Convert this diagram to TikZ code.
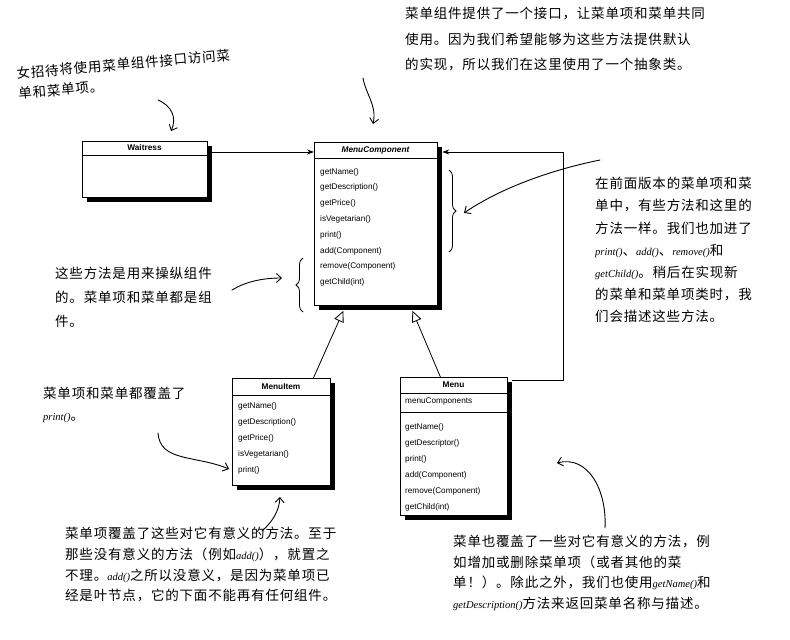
\documentclass[tikz,border=0pt]{standalone}
\usepackage{fontspec}
\setmainfont{Liberation Sans}
\newfontfamily\cjk[LetterSpace=6]{Noto Sans CJK SC}
\newfontfamily\handcode{Liberation Serif}
\usetikzlibrary{arrows.meta,decorations.pathreplacing}
\newcommand{\cd}[1]{{\handcode\itshape\fontsize{10.5}{10}\selectfont #1}}
\begin{document}
\begin{tikzpicture}[x=1pt,y=-1pt,
 umlbox/.style={draw, line width=0.8pt, fill=white, inner sep=0pt, anchor=north west},
 shadowfill/.style={fill=black},
 umltitle/.style={font=\bfseries\fontsize{8.3}{9}\selectfont, inner sep=0pt},
 meth/.style={font=\fontsize{8.2}{16}\selectfont, align=left, inner sep=0pt, anchor=north west},
 annot/.style={font=\cjk\fontsize{13.5}{22}\selectfont, align=left, inner sep=0pt, anchor=north west},
 hand/.style={line width=0.9pt, -{Straight Barb[length=5pt,width=9pt]}, line cap=round},
 conn/.style={line width=0.8pt},
 brc/.style={line width=0.8pt, decorate, decoration={brace, amplitude=7pt}},
]
\useasboundingbox (0,0) rectangle (790,640);
\fill[white] (0,0) rectangle (790,640);

% ---------- shadows ----------
\fill[shadowfill] (86.5,145.5) rectangle (211.5,201.5);
\fill[shadowfill] (318.5,146.5) rectangle (441.5,309.5);
\fill[shadowfill] (236.5,382.5) rectangle (334.5,489.5);
\fill[shadowfill] (404.5,381.5) rectangle (511.5,519.5);

% ---------- Waitress ----------
\node[umlbox, minimum width=125pt, minimum height=56pt] (w) at (82,141) {};
\node[umltitle] (wt) at (144.5,148) {Waitress};
\draw[line width=0.6pt] ([yshift=-14pt]w.north west) -- ([yshift=-14pt]w.north east);

% ---------- MenuComponent ----------
\node[umlbox, minimum width=123pt, minimum height=163pt] (mc) at (314,142) {};
\node[umltitle, font=\bfseries\itshape\fontsize{8.3}{9}\selectfont] (mct) at (375.5,150) {MenuComponent};
\draw[line width=0.6pt] ([yshift=-16pt]mc.north west) -- ([yshift=-16pt]mc.north east);
\node[meth, font=\fontsize{8.2}{15.8}\selectfont] (mcm) at (320,168) {getName()\\getDescription()\\getPrice()\\isVegetarian()\\print()\\add(Component)\\remove(Component)\\getChild(int)};

% ---------- MenuItem ----------
\node[umlbox, minimum width=98pt, minimum height=107pt] (mi) at (232,378) {};
\node[umltitle] (mit) at (281,386.5) {MenuItem};
\draw[line width=0.6pt] ([yshift=-17pt]mi.north west) -- ([yshift=-17pt]mi.north east);
\node[meth] (mim) at (238,402) {getName()\\getDescription()\\getPrice()\\isVegetarian()\\print()};

% ---------- Menu ----------
\node[umlbox, minimum width=107pt, minimum height=138pt] (me) at (400,377) {};
\node[umltitle] (met) at (453.5,385) {Menu};
\draw[line width=0.6pt] ([yshift=-16pt]me.north west) -- ([yshift=-16pt]me.north east);
\draw[line width=0.6pt] ([yshift=-35pt]me.north west) -- ([yshift=-35pt]me.north east);
\node[meth] (mea) at (405,398) {menuComponents};
\node[meth] (mem) at (405,423) {getName()\\getDescriptor()\\print()\\add(Component)\\remove(Component)\\getChild(int)};

% ---------- connectors ----------
\draw[conn, -{Stealth[length=7pt,width=5pt]}] ([xshift=4.5pt,yshift=-11pt]w.north east) -- ([yshift=-10pt]mc.north west);
\draw[conn, -{Triangle[fill=white,length=11pt,width=10pt]}] ([xshift=32pt]mi.north) -- ([xshift=-32.5pt,yshift=-5pt]mc.south);
\draw[conn, -{Triangle[fill=white,length=11pt,width=10pt]}] ([xshift=-13.5pt]me.north) -- ([xshift=36.5pt,yshift=-5pt]mc.south);
\coordinate (agg) at (563,152);
\draw[conn, -{Stealth[length=7pt,width=5pt]}] ([xshift=4.5pt,yshift=-3pt]me.north east) -| (agg) -- ([xshift=4.5pt,yshift=-10pt]mc.north east);

% ---------- braces ----------
\draw[brc] (449,170) -- (449,252);
\draw[brc] (303,312) -- (303,258);

% ---------- annotations ----------
\node[annot, rotate=5, font=\cjk\fontsize{13.5}{20}\selectfont] (n1) at (16,67) {女招待将使用菜单组件接口访问菜\\单和菜单项。};
\node[annot, font=\cjk\fontsize{13.5}{25.5}\selectfont] (n2) at (405,7) {菜单组件提供了一个接口，让菜单项和菜单共同\\使用。因为我们希望能够为这些方法提供默认\\的实现，所以我们在这里使用了一个抽象类。};
\node[annot, font=\cjk\fontsize{13.5}{22.2}\selectfont] (n3) at (595,177) {在前面版本的菜单项和菜\\单中，有些方法和这里的\\方法一样。我们也加进了\\\cd{print()}、\cd{add()}、\cd{remove()}和\\\cd{getChild()}。稍后在实现新\\的菜单和菜单项类时，我\\们会描述这些方法。};
\node[annot, font=\cjk\fontsize{13.5}{24}\selectfont] (n4) at (55,267) {这些方法是用来操纵组件\\的。菜单项和菜单都是组\\件。};
\node[annot, font=\cjk\fontsize{13.5}{22}\selectfont] (n5) at (43,387) {菜单项和菜单都覆盖了\\\cd{print()}。};
\node[annot, font=\cjk\fontsize{13.5}{20.7}\selectfont] (n6) at (65,527) {菜单项覆盖了这些对它有意义的方法。至于\\那些没有意义的方法（例如\cd{add()}），就置之\\不理。\cd{add()}之所以没意义，是因为菜单项已\\经是叶节点，它的下面不能再有任何组件。};
\node[annot, font=\cjk\fontsize{13.5}{20.5}\selectfont] (n7) at (453,535) {菜单也覆盖了一些对它有意义的方法，例\\如增加或删除菜单项（或者其他的菜\\单！）。除此之外，我们也使用\cd{getName()}和\\\cd{getDescription()}方法来返回菜单名称与描述。};

% ---------- hand-drawn arrows ----------
\coordinate (a1s) at (158,100); \coordinate (a1e) at (171,131);
\draw[hand] (a1s) .. controls (172,106) and (177,118) .. (a1e);
\coordinate (a2s) at (363,78); \coordinate (a2e) at (373,124);
\draw[hand] (a2s) .. controls (366,95) and (377,105) .. (a2e);
\coordinate (a3s) at (600,160); \coordinate (a3e) at (464,213);
\draw[hand] (a3s) .. controls (560,168) and (505,185) .. (a3e);
\coordinate (a4s) at (232,290); \coordinate (a4e) at (282,278);
\draw[hand] (a4s) .. controls (245,282) and (262,278) .. (a4e);
\coordinate (a5s) at (158,433); \coordinate (a5e) at (229,469);
\draw[hand] (a5s) .. controls (160,462) and (195,455) .. (a5e);
\coordinate (a6s) at (262,531); \coordinate (a6e) at (280,497);
\draw[hand] (a6s) .. controls (272,522) and (279,512) .. (a6e);
\coordinate (a7s) at (605,528); \coordinate (a7e) at (557,463);
\draw[hand] (a7s) .. controls (607,490) and (588,455) .. (a7e);
\end{tikzpicture}
\end{document}
